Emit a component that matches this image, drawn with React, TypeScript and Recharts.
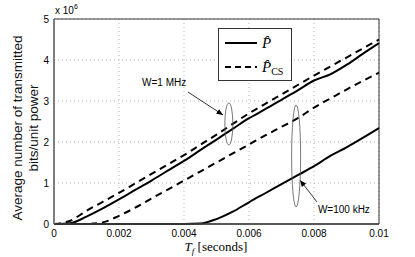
import React from "react";
import {
  LineChart,
  Line,
  XAxis,
  YAxis,
  CartesianGrid,
  Legend,
  ReferenceArea,
  ReferenceDot,
  ReferenceLine,
} from "recharts";

// T_f in seconds
const TF = [
  0, 0.0005, 0.001, 0.0015, 0.002, 0.0025, 0.003, 0.0035, 0.004, 0.0045, 0.005,
  0.0055, 0.006, 0.0065, 0.007, 0.0075, 0.008, 0.0085, 0.009, 0.0095, 0.01,
];
// values in units of 10^6
const P_1MHZ = [
  0, 0.02, 0.18, 0.38, 0.6, 0.83, 1.06, 1.3, 1.54, 1.8, 2.06, 2.32, 2.58, 2.8,
  3.03, 3.26, 3.5, 3.65, 3.88, 4.15, 4.41,
];
const PCS_1MHZ = [
  0, 0.08, 0.32, 0.54, 0.76, 0.99, 1.22, 1.45, 1.68, 1.93, 2.18, 2.44, 2.7,
  2.93, 3.16, 3.39, 3.62, 3.84, 4.06, 4.28, 4.5,
];
const PCS_100K = [
  0, 0, 0, 0.04, 0.2, 0.4, 0.62, 0.84, 1.06, 1.28, 1.5, 1.72, 1.94, 2.16, 2.37,
  2.58, 2.84, 3.06, 3.28, 3.49, 3.69,
];
const P_100K = [
  0, 0, 0, 0, 0, 0, 0, 0, 0, 0.01, 0.12, 0.3, 0.53, 0.75, 0.97, 1.19, 1.41,
  1.66, 1.87, 2.1, 2.34,
];

const XTICKS = [0, 0.002, 0.004, 0.006, 0.008, 0.01];
const YTICKS = [0, 1, 2, 3, 4, 5];

const data = TF.map((t, i) => ({
  tf: t,
  p1: P_1MHZ[i],
  pcs1: PCS_1MHZ[i],
  pcs2: PCS_100K[i],
  p2: P_100K[i],
}));

const SANS = "'Liberation Sans', Arial, Helvetica, sans-serif";
const SERIF = "'Liberation Serif', 'DejaVu Serif', serif";

const arrowShape = (p: any) => {
  const { x1, y1, x2, y2 } = p;
  const a = Math.atan2(y2 - y1, x2 - x1);
  const L = 7;
  const w = 0.4;
  const ax = x2 - L * Math.cos(a - w);
  const ay = y2 - L * Math.sin(a - w);
  const bx = x2 - L * Math.cos(a + w);
  const by = y2 - L * Math.sin(a + w);
  return (
    <g>
      <line x1={x1} y1={y1} x2={x2} y2={y2} stroke="#000" strokeWidth={0.8} />
      <polygon points={`${x2},${y2} ${ax},${ay} ${bx},${by}`} fill="#000" />
    </g>
  );
};

const ellipse = (rx: number, ry: number) => (p: any) => (
  <ellipse cx={p.cx} cy={p.cy} rx={rx} ry={ry} fill="none" stroke="#555" strokeWidth={0.8} />
);

const textAt = (s: string) => (p: any) => (
  <text x={p.cx} y={p.cy} fontFamily={SANS} fontSize={10} fill="#000">
    {s}
  </text>
);

const renderLegend = () => (
  <div
    style={{
      width: 74,
      height: 53,
      background: "#fff",
      border: "1.2px solid #333",
      boxSizing: "border-box",
    }}
  >
    <svg width={72} height={51}>
      <line x1={6} y1={14} x2={38} y2={14} stroke="#000" strokeWidth={2} />
      <text x={43} y={19} fontFamily={SERIF} fontStyle="italic" fontSize={15}>
        {"P\u0302"}
      </text>
      <line x1={6} y1={38} x2={38} y2={38} stroke="#000" strokeWidth={2} strokeDasharray="6 4" />
      <text x={43} y={43} fontFamily={SERIF} fontStyle="italic" fontSize={15}>
        {"P\u0302"}
        <tspan fontStyle="normal" fontSize={10} dy={3}>
          CS
        </tspan>
      </text>
    </svg>
  </div>
);

const renderYLabel = () => (
  <g>
    <text
      transform="translate(22,128) rotate(-90)"
      textAnchor="middle"
      fontFamily={SANS}
      fontSize={13.5}
      fill="#111"
    >
      Average number of transmitted
    </text>
    <text
      transform="translate(38,128) rotate(-90)"
      textAnchor="middle"
      fontFamily={SANS}
      fontSize={13.5}
      fill="#111"
    >
      bits/unit power
    </text>
    <text x={55} y={14} fontFamily={SANS} fontSize={10} fill="#000">
      x 10
      <tspan fontSize={7} dy={-5}>
        6
      </tspan>
    </text>
  </g>
);

const renderXLabel = () => (
  <text x={216} y={251} textAnchor="middle" fontFamily={SERIF} fontSize={13} fill="#000">
    <tspan fontStyle="italic">T</tspan>
    <tspan fontStyle="italic" fontSize={9} dy={3}>
      f
    </tspan>
    <tspan dy={-3}>{"  [seconds]"}</tspan>
  </text>
);

export default function App() {
  return (
    <div style={{ position: "absolute", left: 0, top: 0, width: 415, height: 257, background: "#fff" }}>
      <LineChart
        width={415}
        height={257}
        data={data}
        margin={{ top: 19, right: 36, bottom: 0, left: 0 }}
      >
        <CartesianGrid stroke="#b5b5b5" strokeDasharray="1 3" />
        <XAxis
          type="number"
          dataKey="tf"
          domain={[0, 0.01]}
          ticks={XTICKS}
          tickFormatter={(v) => String(v)}
          height={33}
          tickSize={0}
          tickMargin={6}
          stroke="#444"
          strokeWidth={1.5}
          tick={{ fill: "#000", fontSize: 10, fontFamily: SANS }}
          label={{ content: renderXLabel }}
        />
        <YAxis
          type="number"
          domain={[0, 5]}
          ticks={YTICKS}
          width={54}
          tickSize={0}
          tickMargin={5}
          stroke="#777"
          strokeWidth={1.5}
          tick={{ fill: "#000", fontSize: 10, fontFamily: SANS }}
          label={{ content: renderYLabel }}
        />
        <ReferenceArea
          x1={0}
          x2={0.01}
          y1={0}
          y2={5}
          fill="none"
          fillOpacity={0}
          stroke="#333"
          strokeWidth={1}
        />
        <Legend
          layout="horizontal"
          verticalAlign="middle"
          align="center"
          content={renderLegend}
          wrapperStyle={{ position: "absolute", left: 218, top: 28, width: 74, height: 53 }}
        />
        <Line type="monotone" dataKey="pcs1" stroke="#000" strokeWidth={2} strokeDasharray="7 5" dot={false} isAnimationActive={false} />
        <Line type="monotone" dataKey="p1" stroke="#000" strokeWidth={2} dot={false} isAnimationActive={false} />
        <Line type="monotone" dataKey="pcs2" stroke="#000" strokeWidth={2} strokeDasharray="7 5" dot={false} isAnimationActive={false} />
        <Line type="monotone" dataKey="p2" stroke="#000" strokeWidth={2} dot={false} isAnimationActive={false} />
        <ReferenceDot x={0.00538} y={2.44} r={0} shape={ellipse(4, 21)} />
        <ReferenceDot x={0.00745} y={1.66} r={0} shape={ellipse(4.5, 51)} />
        <ReferenceLine
          segment={[
            { x: 0.00412, y: 3.22 },
            { x: 0.0052, y: 2.66 },
          ]}
          shape={arrowShape}
        />
        <ReferenceLine
          segment={[
            { x: 0.00809, y: 0.54 },
            { x: 0.00757, y: 1.07 },
          ]}
          shape={arrowShape}
        />
        <ReferenceDot x={0.00271} y={3.37} r={0} shape={textAt("W=1 MHz")} />
        <ReferenceDot x={0.00812} y={0.27} r={0} shape={textAt("W=100 kHz")} />
      </LineChart>
    </div>
  );
}
